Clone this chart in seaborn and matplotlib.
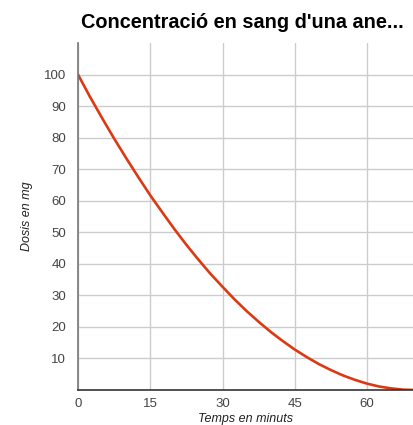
import matplotlib
matplotlib.use("Agg")
import matplotlib.pyplot as plt
import seaborn as sns
import pandas as pd

minutes = [0, 2.5, 5, 7.5, 10, 12.5, 15, 17.5, 20, 22.5, 25, 27.5, 30, 32.5, 35,
           37.5, 40, 42.5, 45, 47.5, 50, 52.5, 55, 57.5, 60, 62.5, 65, 67.5, 70]
dose = [100, 92.9, 86.2, 79.7, 73.5, 67.5, 61.7, 56.3, 51.0, 46.0, 41.3, 36.8, 32.7, 28.7, 25.0,
        21.6, 18.4, 15.5, 12.8, 10.4, 8.2, 6.3, 4.6, 3.2, 2.0, 1.1, 0.5, 0.1, 0.0]
x_ticks = [0, 15, 30, 45, 60]
y_ticks = [10, 20, 30, 40, 50, 60, 70, 80, 90, 100]
title = "Concentració en sang d'una ane..."
x_label = "Temps en minuts"
y_label = "Dosis en mg"

sns.set_style("white")
plt.rcParams['font.family'] = ['Liberation Sans', 'DejaVu Sans']

df = pd.DataFrame({"t": minutes, "d": dose})
fig = plt.figure(figsize=(4.13, 4.25), dpi=100)
ax = fig.add_axes([78/413, 35/425, 1 - 78/413, (390-43)/425])
sns.lineplot(data=df, x="t", y="d", ax=ax, color="#dc3912", linewidth=1.9)
ax.set_xlim(0, 69.5)
ax.set_ylim(0, 110)
ax.set_xticks(x_ticks)
ax.set_yticks(y_ticks)
ax.grid(True, color="#cccccc", linewidth=1)
ax.set_axisbelow(True)
for s in ["top", "right"]:
    ax.spines[s].set_visible(False)
ax.spines["left"].set_color("#777777")
ax.spines["left"].set_linewidth(1.2)
ax.spines["bottom"].set_color("#333333")
ax.spines["bottom"].set_linewidth(1.2)
ax.tick_params(axis="y", length=0, labelsize=9.5, labelcolor="#444444", pad=8.5)
ax.tick_params(axis="x", length=0, labelsize=9.5, labelcolor="#444444", pad=6)
ax.set_xlabel(x_label, fontstyle="italic", fontsize=9, color="#222222", labelpad=2)
ax.set_ylabel(y_label, fontstyle="italic", fontsize=9, color="#222222", labelpad=8)
fig.text(242/413, 1 - 22/425, title, ha="center", va="center", fontsize=14.3, fontweight="bold", color="#000000")
fig.savefig("out.png", dpi=100)
